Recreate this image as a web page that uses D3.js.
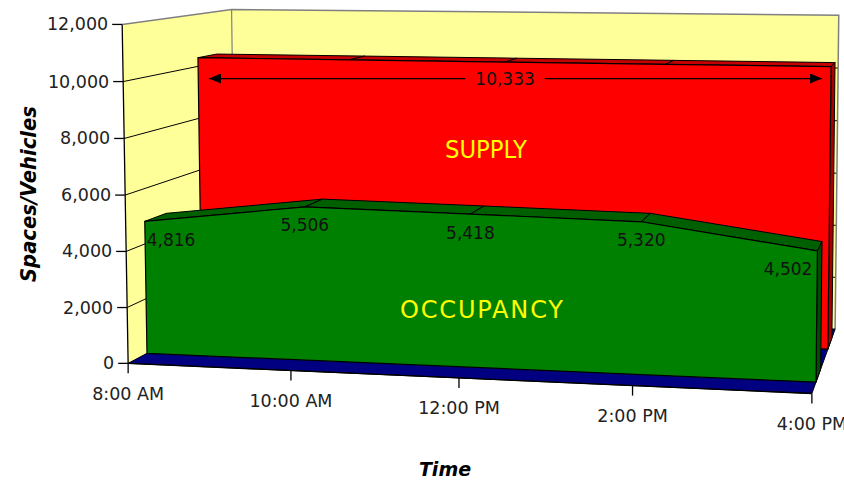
<!DOCTYPE html>
<html>
<head>
<meta charset="utf-8">
<script src="https://cdn.jsdelivr.net/npm/d3@7"></script>
<style>
  body { margin: 0; background: #fff; }
  svg { display: block; }
  text { font-family: "DejaVu Sans", Verdana, sans-serif; }
</style>
</head>
<body>
<svg id="chart" width="844" height="480"></svg>
<script>
// ---- data ----
const times = ["8:00 AM", "10:00 AM", "12:00 PM", "2:00 PM", "4:00 PM"];
const supply = [10333, 10333, 10333, 10333, 10333];
const occupancy = [4816, 5506, 5418, 5320, 4502];
const yTicks = [0, 2000, 4000, 6000, 8000, 10000, 12000];
const seriesNames = ["OCCUPANCY", "SUPPLY"]; // front row first

// ---- 3D frame: world box t,v,z in [0,1] and where its corners land on screen ----
const frameAnchors = [
  // t, v, z, x, y
  [0, 0, 0, 128, 363],
  [0, 1, 0, 122, 25],
  [1, 0, 0, 812, 393],
  [0.25, 0, 0, 291, 370.5],
  [0.5, 0, 0, 459, 378],
  [0.75, 0, 0, 633, 385.5],
  [0, 10 / 12, 0, 123, 82],
  [0, 0.5, 0, 125, 195],
  [0, 1, 1, 232, 9],
  [1, 1, 1, 839, 15],
  [1, 0, 1, 835, 330],
  [1, 10 / 12, 1, 838, 68],
  [1, 0.5, 1, 836.5, 173]
];

// Fit a 3x4 perspective camera matrix to the frame anchors (least squares DLT)
function fitProjection(anchors) {
  const S = 420, OX = 420, OY = 240;
  const A = [], b = [];
  anchors.forEach(([X, Y, Z, x, y]) => {
    const u = (x - OX) / S, w = (y - OY) / S;
    A.push([X, Y, Z, 1, 0, 0, 0, 0, -u * X, -u * Y, -u * Z]); b.push(u);
    A.push([0, 0, 0, 0, X, Y, Z, 1, -w * X, -w * Y, -w * Z]); b.push(w);
  });
  const n = 11;
  const M = d3.range(n).map(i => {
    const row = new Array(n + 1).fill(0);
    for (let j = 0; j < n; j++) for (let k = 0; k < A.length; k++) row[j] += A[k][i] * A[k][j];
    for (let k = 0; k < A.length; k++) row[n] += A[k][i] * b[k];
    return row;
  });
  for (let c = 0; c < n; c++) {
    let piv = c;
    for (let r = c + 1; r < n; r++) if (Math.abs(M[r][c]) > Math.abs(M[piv][c])) piv = r;
    [M[c], M[piv]] = [M[piv], M[c]];
    for (let r = 0; r < n; r++) {
      if (r === c) continue;
      const f = M[r][c] / M[c][c];
      for (let k = c; k <= n; k++) M[r][k] -= f * M[c][k];
    }
  }
  const p = M.map((row, i) => row[n] / row[i]);
  return (X, Y, Z) => {
    const w = p[8] * X + p[9] * Y + p[10] * Z + 1;
    const u = (p[0] * X + p[1] * Y + p[2] * Z + p[3]) / w;
    const v = (p[4] * X + p[5] * Y + p[6] * Z + p[7]) / w;
    return [u * S + OX, v * S + OY];
  };
}
const project = fitProjection(frameAnchors);

// ---- scales ----
const tScale = d3.scalePoint().domain(times).range([0, 1]);
const vScale = d3.scaleLinear().domain([0, 12000]).range([0, 1]);
const zScale = d3.scaleBand().domain(seriesNames).range([0, 1])
  .paddingInner(0.628).paddingOuter(0.314);

const svg = d3.select("#chart");
const poly = d3.line().curve(d3.curveLinearClosed);
const seg = d3.line();

function face(g, pts, fill, stroke, sw) {
  g.append("path").attr("d", poly(pts))
    .attr("fill", fill).attr("stroke", stroke || "none")
    .attr("stroke-width", sw || 1).attr("stroke-linejoin", "round");
}

// ---- walls ----
const walls = svg.append("g");
face(walls, [project(0, 0, 0), project(0, 1, 0), project(0, 1, 1), project(0, 0, 1)], "#FFFF99");
face(walls, [project(0, 0, 1), project(1, 0, 1), project(1, 1, 1), project(0, 1, 1)], "#FFFF99");

// gridlines on the side and back walls
yTicks.forEach(tk => {
  const v = vScale(tk);
  if (tk === 12000 || tk === 0) return;
  walls.append("path").attr("d", seg([project(0, v, 0), project(0, v, 1), project(1, v, 1)]))
    .attr("fill", "none").attr("stroke", "#000").attr("stroke-width", 1);
});
// wall edges
walls.append("path")
  .attr("d", seg([project(0, 1, 0), project(0, 1, 1), project(1, 1, 1), project(1, 0, 1)]))
  .attr("fill", "none").attr("stroke", "#808080").attr("stroke-width", 1.5);
walls.append("path").attr("d", seg([project(0, 1, 1), project(0, 0, 1)]))
  .attr("fill", "none").attr("stroke", "#808080").attr("stroke-width", 1.2);

// ---- floor ----
face(svg.append("g"), [project(0, 0, 0), project(1, 0, 0), project(1, 0, 1), project(0, 0, 1)],
  "#000080", "#000", 1);

// ---- area slabs ----
function slab(values, name, colors) {
  const g = svg.append("g");
  const z0 = zScale(name), z1 = z0 + zScale.bandwidth();
  const pts = times.map((c, i) => ({ t: tScale(c), v: vScale(values[i]) }));
  const last = pts[pts.length - 1];
  // top strips
  d3.pairs(pts).forEach(([a, b]) => {
    face(g, [project(a.t, a.v, z0), project(b.t, b.v, z0), project(b.t, b.v, z1), project(a.t, a.v, z1)],
      colors.top, "#000", 1);
  });
  // right end
  face(g, [project(last.t, 0, z0), project(last.t, last.v, z0), project(last.t, last.v, z1), project(last.t, 0, z1)],
    colors.side, "#000", 1);
  // front face
  const front = [project(pts[0].t, 0, z0)]
    .concat(pts.map(p => project(p.t, p.v, z0)))
    .concat([project(last.t, 0, z0)]);
  face(g, front, colors.front, "#000", 1.2);
  return { g, z0, z1, pts };
}

const red = slab(supply, "SUPPLY", { front: "#FF0000", top: "#C40000", side: "#A80000" });
const green = slab(occupancy, "OCCUPANCY", { front: "#008000", top: "#006000", side: "#004E00" });

// ---- axes ----
const axes = svg.append("g");
axes.append("path").attr("d", seg([project(0, 0, 0), project(0, 1, 0)]))
  .attr("stroke", "#000").attr("stroke-width", 1.3).attr("fill", "none");
axes.append("path").attr("d", seg([project(0, 0, 0), project(1, 0, 0)]))
  .attr("stroke", "#000").attr("stroke-width", 1.3).attr("fill", "none");

yTicks.forEach(tk => {
  const [x, y] = project(0, vScale(tk), 0);
  axes.append("line").attr("x1", x - 10).attr("x2", x).attr("y1", y).attr("y2", y)
    .attr("stroke", "#000").attr("stroke-width", 1.3);
  axes.append("text").attr("x", x - 14).attr("y", y + 6)
    .attr("text-anchor", "end").attr("font-size", 17.5).attr("fill", "#222")
    .text(d3.format(",")(tk));
});

times.forEach(c => {
  const [x, y] = project(tScale(c), 0, 0);
  axes.append("line").attr("x1", x).attr("x2", x).attr("y1", y).attr("y2", y + 10)
    .attr("stroke", "#000").attr("stroke-width", 1.3);
  axes.append("text").attr("x", x).attr("y", y + 36.5)
    .attr("text-anchor", "middle").attr("font-size", 17.5).attr("fill", "#222")
    .text(c);
});

// axis titles
svg.append("text").attr("transform", "translate(36,194) rotate(-90)")
  .attr("text-anchor", "middle").attr("font-size", 21).attr("font-weight", "bold")
  .attr("font-style", "italic").attr("fill", "#000")
  .attr("textLength", 176).attr("lengthAdjust", "spacingAndGlyphs").text("Spaces/Vehicles");
svg.append("text").attr("x", 445).attr("y", 476)
  .attr("text-anchor", "middle").attr("font-size", 19).attr("font-weight", "bold")
  .attr("font-style", "italic").attr("fill", "#000").text("Time");

// ---- value labels on occupancy ----
green.pts.forEach((p, i) => {
  const [x, y] = project(p.t, p.v, green.z0);
  const n = green.pts.length;
  const anchor = i === 0 ? "start" : i === n - 1 ? "end" : "middle";
  const dx = i === 0 ? 2 : i === n - 1 ? -5 : 0;
  svg.append("text").attr("x", x + dx).attr("y", y + 24.5)
    .attr("text-anchor", anchor).attr("font-size", 17).attr("fill", "#111")
    .text(d3.format(",")(occupancy[i]));
});

// ---- supply span annotation ----
const defs = svg.append("defs");
defs.append("marker").attr("id", "arrow").attr("viewBox", "0 0 12 10")
  .attr("refX", 12).attr("refY", 5).attr("markerWidth", 12).attr("markerHeight", 10)
  .attr("markerUnits", "userSpaceOnUse").attr("orient", "auto")
  .append("path").attr("d", "M0,0 L12,5 L0,10 Z").attr("fill", "#000");

const sv = vScale(supply[0]);
const leftTop = project(0, sv, red.z0), rightTop = project(1, sv, red.z0);
const midTop = project(tScale(times[2]), sv, red.z0);
const arrowY = midTop[1] + 16.5;
const supplyLabel = svg.append("text").attr("x", midTop[0]).attr("y", midTop[1] + 22.5)
  .attr("text-anchor", "middle").attr("font-size", 17).attr("fill", "#111")
  .text(d3.format(",")(supply[0]));
const half = supplyLabel.node().getComputedTextLength() / 2 + 10;
svg.append("line").attr("x1", midTop[0] - half).attr("x2", leftTop[0] + 11)
  .attr("y1", arrowY).attr("y2", arrowY).attr("stroke", "#000").attr("stroke-width", 1.2)
  .attr("marker-end", "url(#arrow)");
svg.append("line").attr("x1", midTop[0] + half).attr("x2", rightTop[0] - 9)
  .attr("y1", arrowY).attr("y2", arrowY).attr("stroke", "#000").attr("stroke-width", 1.2)
  .attr("marker-end", "url(#arrow)");

// ---- series names ----
svg.append("text").attr("x", 486).attr("y", 158).attr("text-anchor", "middle")
  .attr("font-size", 24).attr("fill", "#FFFF00")
  .attr("textLength", 82).attr("lengthAdjust", "spacingAndGlyphs").text("SUPPLY");
svg.append("text").attr("x", 481.5).attr("y", 318).attr("text-anchor", "middle")
  .attr("font-size", 24).attr("fill", "#FFFF00")
  .attr("textLength", 163).attr("lengthAdjust", "spacing").text("OCCUPANCY");
</script>
</body>
</html>
